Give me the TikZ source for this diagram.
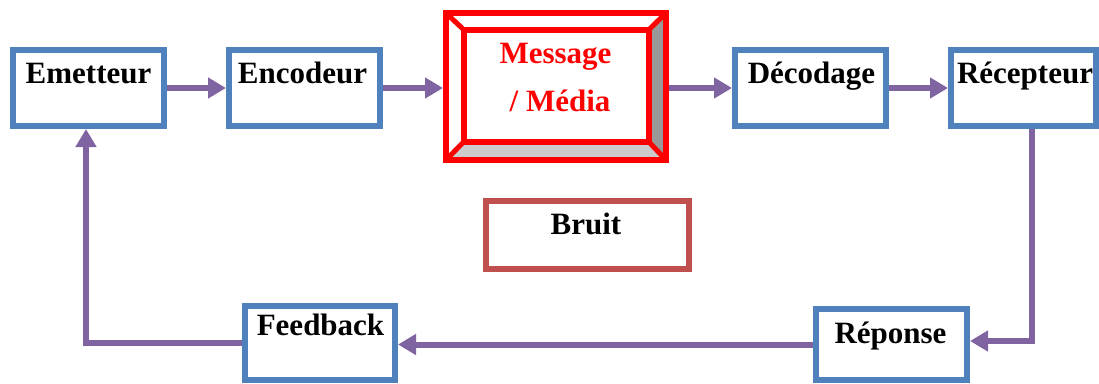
\documentclass[tikz,border=0pt]{standalone}
\usepackage{fontspec}
\setmainfont{Liberation Serif}
\usetikzlibrary{arrows.meta,calc}
\definecolor{boxblue}{HTML}{4F81BD}
\definecolor{flowpurple}{HTML}{8064A2}
\definecolor{noisered}{HTML}{C0504D}
\definecolor{bevdark}{HTML}{999999}
\definecolor{bevlight}{HTML}{CCCCCC}

\begin{document}
\begin{tikzpicture}[x=1pt,y=-1pt,
  stagebox/.style={draw=boxblue, line width=6pt, fill=white, rectangle,
    inner sep=0pt, minimum width=151pt, minimum height=76pt},
  lbl/.style={anchor=base, inner sep=0pt, font=\bfseries\fontsize{31}{36}\selectfont},
  flow/.style={draw=flowpurple, line width=6pt,
    -{Triangle[length=18pt,width=20pt]}},
  frame/.style={draw=red, line width=6pt, line join=miter}]

\useasboundingbox (0,0) rectangle (1099,383);

% top row of stages
\node[stagebox] (emetteur) at (88.5,88) {};
\node[stagebox] (encodeur) at (304.5,88) {};
\node[stagebox] (decodage) at (810.5,88) {};
\node[stagebox, minimum width=145pt] (recepteur) at (1023.5,88) {};

% bottom row
\node[stagebox, minimum width=150pt, minimum height=74pt] (feedback) at (320,343) {};
\node[stagebox, minimum height=71pt] (reponse) at (891.5,344.5) {};

% noise box
\node[draw=noisered, line width=6pt, fill=white, inner sep=0pt,
  minimum width=203pt, minimum height=68pt] (bruit) at (587.5,235) {};

% bevelled message frame
\node[minimum width=220pt, minimum height=147pt, inner sep=0pt, outer sep=3pt]
  (message) at (556,86.5) {};
\coordinate (o1) at (446,13);
\coordinate (o2) at (666,13);
\coordinate (o3) at (666,160);
\coordinate (o4) at (446,160);
\coordinate (i1) at (464,30);
\coordinate (i2) at (648.5,30);
\coordinate (i3) at (648.5,141.5);
\coordinate (i4) at (464,141.5);
\fill[white] (o1) rectangle (o3);
\fill[bevdark] (o2) -- (o3) -- (i3) -- (i2) -- cycle;
\fill[bevlight] (o4) -- (o3) -- (i3) -- (i4) -- cycle;
\draw[frame] (o1) rectangle (o3) (i1) rectangle (i3);
\draw[frame, line width=5pt] (o1) -- (i1) (o2) -- (i2) (o3) -- (i3) (o4) -- (i4);

% labels
\node[lbl] (emetteur-t) at (88.5,83) {Emetteur};
\node[lbl] (encodeur-t) at (302.5,83) {Encodeur};
\node[lbl] (decodage-t) at (811.5,83) {Décodage};
\node[lbl] (recepteur-t) at (1025,83) {Récepteur};
\node[lbl, text=red] (message-t1) at (555.5,63) {Message};
\node[lbl, text=red] (message-t2) at (560,111) {/ Média};
\node[lbl] (bruit-t) at (586,234) {Bruit};
\node[lbl] (feedback-t) at (320.5,335) {Feedback};
\node[lbl] (reponse-t) at (890.5,343) {Réponse};

% connectors
\coordinate (rturn) at (1032,341);
\coordinate (lturn) at (86,343);
\draw[flow] (emetteur.east) -- (encodeur.west);
\draw[flow] (encodeur.east) -- (encodeur.east -| message.west);
\draw[flow] (decodage.west -| message.east) -- (decodage.west);
\draw[flow] (decodage.east) -- (recepteur.west);
\draw[flow] (recepteur.south -| rturn) -- (rturn) -- (rturn -| reponse.east);
\draw[flow] (reponse.west) -- (reponse.west -| feedback.east);
\draw[flow] (feedback.west) -- (lturn) -- (lturn |- emetteur.south);

\end{tikzpicture}
\end{document}
